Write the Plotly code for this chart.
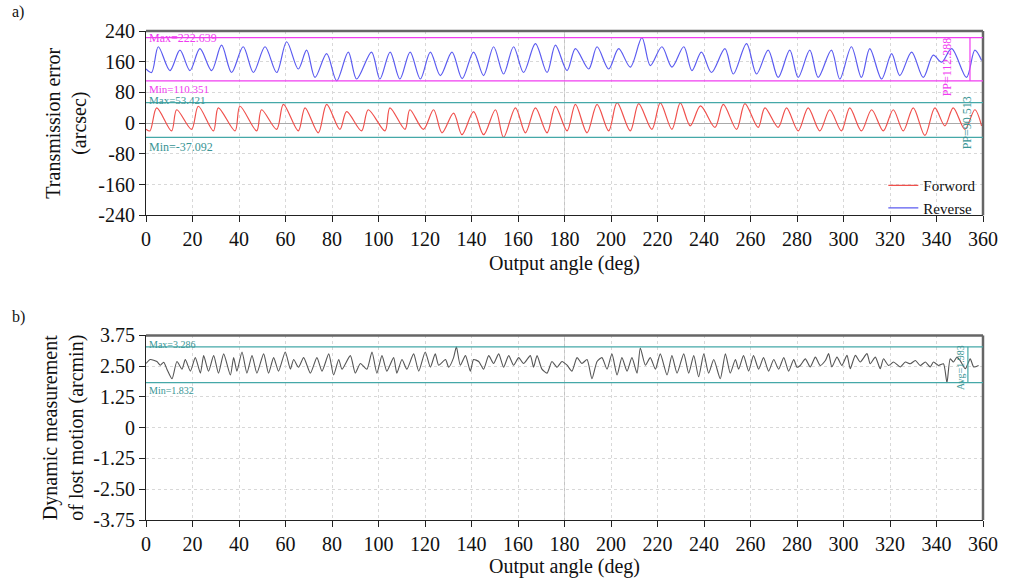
import plotly.graph_objects as go

# ---------------- data ----------------
fwd_angle = [0, 1.7, 4.6, 11.0, 13.2, 19.6, 22.5, 29.0, 31.1, 38.3, 40.4, 47.6, 49.7, 56.2, 59.1,
             65.5, 68.4, 74.1, 77.7, 83.4, 86.3, 92.7, 95.6, 102.8, 104.9, 111.4, 113.5, 119.3,
             123.7, 127.3, 132.3, 135.9, 140.9, 145.2, 150.3, 153.8, 158.9, 163.2, 167.5, 172.5,
             176.1, 181.1, 184.7, 189.7, 194.0, 199.0, 202.6, 208.3, 211.9, 217.6, 221.2, 226.2,
             229.8, 234.1, 238.5, 244.7, 248.3, 254.0, 257.6, 263.3, 266.2, 271.9, 275.5, 280.5,
             284.8, 289.8, 294.1, 299.1, 302.7, 307.7, 312.1, 317.1, 321.4, 325.7, 330.0, 335.0,
             339.3, 343.6, 347.2, 352.2, 356.5, 359.4]
fwd_value = [-16, -20, 40, -20, 35, -16, 44, -20, 40, -20, 44, -20, 35, -16, 49,
             -20, 40, -25, 49, -16, 30, -20, 35, -20, 40, -16, 35, -16,
             35, -25, 26, -30, 30, -30, 35, -37.092, 40, -25, 40, -25,
             44, -20, 49, -25, 49, -20, 53.421, -20, 51, -16, 53, -16,
             53, -7, 45, -11, 49, -16, 51, -11, 40, -11, 40, -20,
             40, -20, 35, -20, 40, -20, 35, -20, 35, -20, 40, -32,
             40, -7, 40, -16, 35, -7]

rev_angle = [0, 2.4, 5.3, 10.3, 14.6, 18.9, 23.2, 28.2, 32.5, 36.8, 41.8, 46.2, 51.2, 56.2, 60.5,
             65.5, 69.1, 72.7, 77.7, 82.0, 87.0, 90.6, 97.0, 100.6, 105.0, 109.2, 113.6, 118.0,
             122.3, 126.6, 131.6, 136.0, 140.9, 145.2, 149.5, 153.8, 158.1, 162.4, 167.5, 172.5,
             176.1, 181.1, 184.7, 190.4, 194.0, 199.0, 203.3, 208.3, 213.3, 216.9, 221.9, 226.2,
             231.3, 234.8, 238.9, 243.2, 249.0, 252.6, 258.3, 262.6, 267.6, 271.9, 276.9, 280.5,
             285.5, 289.1, 294.8, 298.4, 303.4, 307.7, 311.3, 316.4, 320.7, 324.2, 329.3, 334.3,
             338.6, 342.2, 346.5, 352.9, 356.5, 359.4]
rev_value = [141, 132, 199, 137, 190, 137, 194, 137, 203, 132, 199, 132, 199, 132, 212,
             141, 190, 119, 181, 110.351, 185, 115, 185, 115, 185, 115, 185, 115,
             185, 124, 185, 116, 185, 124, 199, 128, 199, 132, 207, 132,
             203, 137, 194, 141, 199, 141, 194, 146, 222.639, 150, 199, 146,
             199, 137, 185, 132, 194, 128, 207, 128, 190, 119, 190, 119,
             190, 119, 190, 115, 199, 119, 194, 115, 181, 124, 185, 119,
             177, 159, 194, 119, 190, 163]

lm_angle = [0, 1.85, 4.7, 6.15, 7.6, 9.0, 11.2, 13.3, 15.5, 16.9, 19.1, 21.2, 23.4, 24.8, 26.9,
            29.1, 31.2, 33.4, 36.3, 37.7, 39.1, 41.3, 43.4, 45.6, 47.7, 50.6, 52.7, 54.9, 57.0,
            59.9, 62.1, 63.5, 65.6, 67.8, 70.7, 73.5, 75.7, 78.6, 80.7, 82.9, 84.3, 87.9, 90.0,
            92.2, 95.0, 97.2, 99.3, 101.5, 103.6, 106.5, 107.9, 110.1, 112.2, 115.1, 117.3, 120.1,
            122.3, 124.4, 125.9, 128.8, 130.2, 132.3, 133.5, 135.2, 137.4, 139.5, 140.9, 143.1,
            145.2, 147.4, 149.5, 151.7, 153.8, 156.0, 158.1, 160.3, 162.4, 165.3, 166.7, 168.2,
            170.3, 172.5, 174.6, 176.8, 178.9, 181.1, 183.2, 185.4, 187.5, 189.7, 191.8, 194.0,
            196.1, 198.3, 200.4, 202.6, 204.7, 206.9, 209.0, 211.2, 212.6, 214.8, 216.9, 219.1,
            221.2, 224.1, 226.2, 228.4, 231.3, 233.4, 235.6, 237.7, 239.9, 242.0, 244.2, 247.0,
            249.2, 251.3, 253.5, 254.9, 257.0, 259.2, 261.3, 263.5, 265.6, 267.8, 270.0, 272.1,
            274.3, 276.4, 278.6, 280.0, 281.4, 283.6, 285.7, 287.9, 290.0, 292.2, 293.6, 295.0,
            297.2, 299.3, 301.5, 302.9, 305.1, 307.2, 310.1, 311.5, 313.7, 315.8, 317.2, 319.4,
            321.5, 324.4, 326.6, 328.7, 330.9, 333.0, 335.2, 337.3, 338.7, 340.9, 343.0, 344.5,
            345.9, 347.3, 348.8, 350.2, 352.4, 354.5, 356.0, 358.1]
lm_value = [2.61, 2.77, 2.69, 2.54, 2.66, 2.38, 1.99, 2.69, 2.38, 2.77, 2.30, 2.85, 2.22, 2.93, 2.30,
            2.93, 2.22, 3.00, 2.14, 2.85, 2.30, 3.08, 2.22, 2.93, 2.22, 3.00, 2.22, 2.85, 2.30,
            3.08, 2.38, 2.77, 2.46, 2.85, 2.22, 2.85, 2.30, 3.00, 2.14, 2.77, 2.38, 2.93, 2.22,
            2.61, 2.38, 3.08, 2.22, 2.93, 2.30, 2.85, 2.22, 2.77, 2.38, 3.00, 2.30, 3.08,
            2.46, 3.00, 2.54, 2.77, 2.46, 2.85, 3.286, 2.54, 2.93, 2.30, 2.77, 2.69,
            2.38, 2.93, 2.61, 3.00, 2.46, 2.93, 2.54, 2.85, 2.61, 2.93, 2.46, 2.93,
            2.38, 2.22, 2.69, 2.46, 2.69, 2.54, 2.30, 2.85, 2.61, 2.77, 1.99, 2.69,
            2.85, 2.38, 3.00, 2.14, 2.85, 2.30, 2.85, 2.22, 3.24, 2.54, 2.85, 2.38,
            3.00, 2.14, 2.93, 2.22, 3.00, 2.22, 2.93, 2.07, 3.00, 2.22, 2.77, 1.99,
            3.00, 2.22, 2.77, 2.38, 2.93, 2.30, 2.93, 2.38, 2.85, 2.30, 2.77, 2.38,
            2.85, 2.30, 2.77, 2.46, 2.53, 2.80, 2.47, 2.87, 2.53, 2.73, 3.01, 2.47,
            2.87, 2.53, 2.94, 2.40, 2.94, 2.67, 3.01, 2.60, 2.87, 2.40, 2.80, 2.53,
            2.67, 2.47, 2.67, 2.60, 2.73, 2.53, 2.67, 2.47, 2.67, 2.53, 2.60, 1.832,
            2.80, 2.67, 2.87, 2.73, 2.40, 2.80, 2.47, 2.53]

x_ticks = list(range(0, 361, 20))
y1_ticks = [-240, -160, -80, 0, 80, 160, 240]
y1_labels = ["-240", "-160", "-80", "0", "80", "160", "240"]
y2_ticks = [-3.75, -2.5, -1.25, 0, 1.25, 2.5, 3.75]
y2_labels = ["-3.75", "-2.50", "-1.25", "0", "1.25", "2.50", "3.75"]

te_fwd_max, te_fwd_min, te_fwd_pp = 53.421, -37.092, 90.513
te_rev_max, te_rev_min, te_rev_pp = 222.639, 110.351, 112.288
lm_max, lm_min, lm_avg = 3.286, 1.832, 1.983

# ---------------- styling ----------------
FONT = "Liberation Serif"
RED = "#f0504c"
BLUE = "#5b5bf0"
MAG = "#f03cf0"
TEAL = "#45a8a8"
TEAL_TXT = "#3a9595"
GRAY = "#555555"

fig = go.Figure()
fig.add_trace(go.Scatter(x=fwd_angle, y=fwd_value, mode="lines", name="Forword",
                         line=dict(color=RED, width=1.2, shape="spline", smoothing=0.9),
                         xaxis="x", yaxis="y"))
fig.add_trace(go.Scatter(x=rev_angle, y=rev_value, mode="lines", name="Reverse",
                         line=dict(color=BLUE, width=1.2, shape="spline", smoothing=0.9),
                         xaxis="x", yaxis="y"))
fig.add_trace(go.Scatter(x=lm_angle, y=lm_value, mode="lines", name="Lost motion",
                         line=dict(color=GRAY, width=1.1, shape="spline", smoothing=0.6),
                         xaxis="x2", yaxis="y2", showlegend=False))

axis_common = dict(showline=True, linecolor="#222", linewidth=1, ticks="outside",
                   ticklen=6, tickcolor="#222", showgrid=True, gridcolor="#d8d8d8",
                   griddash="dot", gridwidth=1, zeroline=False,
                   tickfont=dict(family=FONT, size=20, color="#111"))
TITLE_FONT = dict(family=FONT, size=20, color="#111")

fig.update_layout(
    width=1010, height=583,
    margin=dict(l=146, r=27, t=31, b=61),
    paper_bgcolor="white", plot_bgcolor="white",
    font=dict(family=FONT, color="#111"),
    showlegend=True,
    legend=dict(x=0.998, y=0.605, xanchor="right", yanchor="bottom",
                bgcolor="rgba(0,0,0,0)", font=dict(family=FONT, size=15),
                tracegroupgap=0, itemwidth=30),
    xaxis=dict(axis_common, domain=[0, 1], range=[0, 360], tickvals=x_ticks, anchor="y",
               title=dict(text="Output angle (deg)", font=TITLE_FONT, standoff=6)),
    yaxis=dict(axis_common, domain=[0.623, 1.0], range=[-240, 240], tickvals=y1_ticks,
               ticktext=y1_labels, anchor="x",
               zeroline=True, zerolinecolor="#aaaaaa", zerolinewidth=1,
               title=dict(text="Transmission error<br>(arcsec)", font=TITLE_FONT, standoff=6)),
    xaxis2=dict(axis_common, domain=[0, 1], range=[0, 360], tickvals=x_ticks, anchor="y2",
                title=dict(text="Output angle (deg)", font=TITLE_FONT, standoff=2)),
    yaxis2=dict(axis_common, domain=[0, 0.3774], range=[-3.75, 3.75], tickvals=y2_ticks,
                ticktext=y2_labels, anchor="x2",
                title=dict(text="Dynamic measurement<br>of lost motion (arcmin)",
                           font=TITLE_FONT, standoff=4)),
)

shapes = []
# top/right frame lines and darker centre grid line
for xr, yr in (("x", "y"), ("x2", "y2")):
    shapes.append(dict(type="line", xref=f"{xr} domain", yref=f"{yr} domain", x0=0, x1=1, y0=1, y1=1,
                       line=dict(color="#666", width=2.5)))
    shapes.append(dict(type="line", xref=f"{xr} domain", yref=f"{yr} domain", x0=1, x1=1, y0=0, y1=1,
                       line=dict(color="#666", width=2.5)))
    shapes.append(dict(type="line", xref=xr, yref=f"{yr} domain", x0=180, x1=180, y0=0, y1=1,
                       line=dict(color="#c4c4c4", width=1), layer="below"))

# reference lines
for val, col in ((te_rev_max, MAG), (te_rev_min, MAG), (te_fwd_max, TEAL), (te_fwd_min, TEAL)):
    shapes.append(dict(type="line", xref="x domain", yref="y", x0=0, x1=1, y0=val, y1=val,
                       line=dict(color=col, width=1.3)))
for val in (lm_max, lm_min):
    shapes.append(dict(type="line", xref="x2 domain", yref="y2", x0=0, x1=1, y0=val, y1=val,
                       line=dict(color=TEAL, width=1.3)))
shapes.append(dict(type="line", xref="x", yref="y", x0=354.4, x1=354.4, y0=te_rev_min, y1=te_rev_max,
                   line=dict(color=MAG, width=1.2)))
shapes.append(dict(type="line", xref="x2", yref="y2", x0=353.5, x1=353.5, y0=lm_min, y1=lm_max,
                   line=dict(color=TEAL, width=1.2)))
fig.update_layout(shapes=shapes)

plot_w, plot_h = 1010 - 146 - 27, 583 - 31 - 61
def px(xp, yp):
    return (xp - 146) / plot_w, (583 - 61 - yp) / plot_h

def note(text, x, y, col, xref="x", yref="y", xanchor="left", yanchor="middle", size=11, angle=0):
    fig.add_annotation(text=text, x=x, y=y, xref=xref, yref=yref, xanchor=xanchor, yanchor=yanchor,
                       showarrow=False, textangle=angle, borderpad=0,
                       font=dict(family=FONT, size=size, color=col))

note(f"Max={te_rev_max}", 0.8, te_rev_max, MAG, size=12)
note(f"Min={te_rev_min}", 0.8, 90, MAG, size=11)
note(f"Max={te_fwd_max}", 0.8, 60, TEAL_TXT, size=11)
note(f"Min={te_fwd_min}", 0.8, te_fwd_min - 4, TEAL_TXT, yanchor="top", size=12)
note(f"PP={te_rev_pp}", 344.6, 146, MAG, angle=-90, xanchor="center", size=12)
note(f"PP={te_fwd_pp}", 353.2, 0, TEAL_TXT, angle=-90, xanchor="center", size=12)
note(f"Max={lm_max}", 0.8, 3.40, TEAL_TXT, xref="x2", yref="y2", yanchor="middle", size=10)
note(f"Min={lm_min}", 0.8, lm_min - 0.05, TEAL_TXT, xref="x2", yref="y2", yanchor="top", size=10)
note(f"Avg={lm_avg}", 350.3, 2.45, TEAL_TXT, xref="x2", yref="y2", angle=-90, xanchor="center", size=10)

ax, ay = px(10, 12)
bx, by = px(10, 318)
for t, x, y in (("a)", ax, ay), ("b)", bx, by)):
    fig.add_annotation(text=t, x=x, y=y, xref="paper", yref="paper", showarrow=False,
                       font=dict(family=FONT, size=16, color="#111"), xanchor="left", yanchor="middle")

fig.write_html("out.html")
